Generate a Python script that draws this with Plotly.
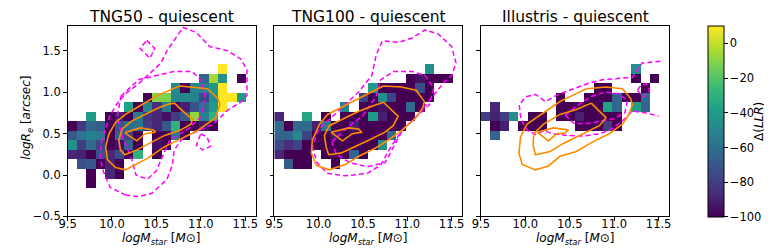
import plotly.graph_objects as go

# ---------------- data ----------------
PANEL_TITLES = ["TNG50 - quiescent", "TNG100 - quiescent", "Illustris - quiescent"]
X_TITLE = "<i>logM</i><sub><i>star</i></sub> [<i>M</i>⊙]"
Y_TITLE = "<i>logR</i><sub><i>e</i></sub> [<i>arcsec</i>]"
CB_TITLE = "Δ(<i>LLR</i>)"

X_EDGES = [9.5, 9.606, 9.712, 9.818, 9.924, 10.03, 10.136, 10.242, 10.348, 10.454, 10.56,
           10.666, 10.772, 10.878, 10.984, 11.09, 11.196, 11.302, 11.408, 11.514, 11.62]
Y_EDGES = [-0.5, -0.385, -0.27, -0.155, -0.04, 0.075, 0.19, 0.305, 0.42, 0.535, 0.65,
           0.765, 0.88, 0.995, 1.11, 1.225, 1.34, 1.455, 1.57, 1.685, 1.8]

X_TICKS = [9.5, 10.0, 10.5, 11.0, 11.5]
Y_TICKS = [-0.5, 0.0, 0.5, 1.0, 1.5]
CB_TICKS = [-100, -80, -60, -40, -20, 0]

# Delta(LLR) per cell: {row index: {column index: value}}
TNG50_CELLS = {
    3: {2: -100},
    4: {2: -100, 4: -88, 5: -100},
    5: {1: -72, 2: -70, 3: -100, 4: -90, 5: -100},
    6: {0: -88, 1: -90, 2: -100, 3: -72, 4: -88, 5: -75, 6: -100, 7: -30, 9: -100},
    7: {0: -45, 1: -80, 2: -62, 3: -78, 4: -100, 5: -95, 6: -65, 7: -100, 9: -95, 10: -100},
    8: {0: -70, 1: -58, 2: -52, 3: -55, 4: -100, 5: -65, 6: -78, 7: -100, 9: -100, 10: -100,
        11: -55, 12: -100},
    9: {0: -100, 1: -82, 2: -65, 3: -68, 4: -100, 5: -72, 6: -60, 7: -58, 8: -80, 9: -88,
        10: -70, 11: -30, 12: -100, 13: -100, 14: -92, 15: -100},
    10: {2: -40, 4: -100, 5: -92, 6: -100, 7: -55, 8: -82, 9: -88, 10: -95, 11: -80, 12: -70,
         13: -8, 14: -52, 15: -30},
    11: {6: -38, 7: -100, 8: -50, 9: -85, 10: -55, 11: -100, 12: -90, 13: -72, 14: -60,
         15: -40, 16: 10},
    12: {8: -100, 9: -10, 10: -12, 11: -50, 12: -48, 13: -52, 14: -75, 15: -45, 16: 10,
         17: 10, 18: -40},
    13: {11: -48, 12: -100, 13: -50, 14: -52, 15: -42, 16: 10},
    14: {14: -65, 15: -5, 16: -45, 18: -100},
    15: {16: 10},
}
TNG100_CELLS = {
    5: {1: -68, 2: -100, 3: -100, 6: -100},
    6: {0: -88, 1: -100, 2: -100, 3: -100, 5: -100, 6: -100, 7: -100, 8: -65, 9: -100},
    7: {0: -75, 1: -85, 2: -78, 3: -100, 4: -100, 5: -100, 6: -100, 7: -100, 8: -100,
        9: -100, 10: -100, 11: -45},
    8: {0: -65, 1: -65, 2: -48, 3: -78, 4: -100, 5: -100, 6: -92, 7: -100, 8: -100, 9: -100,
        10: -100, 11: -100, 12: -62},
    9: {0: -62, 1: -100, 2: -62, 3: -62, 4: -90, 5: -55, 6: -100, 7: -100, 8: -90, 9: -100,
        10: -100, 11: -100, 12: -100, 13: -100},
    10: {0: -88, 3: -35, 5: -100, 7: -100, 8: -100, 9: -100, 10: -40, 11: -90, 12: -100,
         13: -100, 14: -100},
    11: {7: -50, 9: -100, 10: -100, 11: -95, 12: -100, 13: -100, 14: -62, 15: -100},
    12: {9: -78, 10: -100, 11: -45, 12: -78, 13: -100, 14: -100, 15: -100, 16: -100},
    13: {10: -40, 11: -100, 12: -100, 13: -100, 14: -100, 15: -75, 16: -100},
    14: {14: -100, 15: -95, 16: -100, 17: -100, 18: -100},
    15: {16: -45},
}
ILLUSTRIS_CELLS = {
    8: {1: -65},
    9: {1: -100, 2: -90, 4: -100, 5: -100, 6: -100, 10: -100, 11: -100, 12: -100, 13: -80,
        14: -100},
    10: {0: -80, 1: -90, 2: -80, 3: -45, 5: -100, 6: -100, 8: -100, 9: -100, 10: -90,
         11: -100, 12: -100, 13: -100, 14: -100},
    11: {1: -88, 8: -100, 9: -100, 10: -100, 11: -100, 12: -100, 13: -38, 14: -65, 16: -38,
         17: -65},
    12: {8: -100, 11: -100, 12: -100, 13: -100, 14: -65, 15: -100, 16: -100, 17: -62},
    13: {12: -100, 13: -100, 17: -100},
    14: {16: -100, 18: -100},
    15: {16: -45},
}

# contour lines (logM, logRe)
TNG50_ORANGE = [
    ([10.761, 11.075, 11.193, 11.215, 11.167, 10.964, 10.779, 10.594, 10.409, 10.299, 10.151,
      10.040, 9.948, 9.929, 9.966, 10.040, 10.151, 10.336, 10.520, 10.761],
     [1.073, 1.041, 0.925, 0.855, 0.692, 0.536, 0.439, 0.342, 0.206, 0.148, 0.062,
      0.090, 0.187, 0.342, 0.498, 0.634, 0.731, 0.847, 0.964, 1.073]),
    ([10.631, 10.705, 10.797, 10.908, 10.890, 10.760, 10.594, 10.446, 10.280, 10.143, 10.095,
      10.077, 10.114, 10.225, 10.373, 10.520, 10.631],
     [0.855, 0.867, 0.770, 0.672, 0.614, 0.536, 0.478, 0.400, 0.303, 0.245, 0.303,
      0.420, 0.556, 0.653, 0.731, 0.808, 0.855]),
    ([10.143, 10.317, 10.465, 10.491, 10.373, 10.280, 10.143],
     [0.509, 0.568, 0.544, 0.517, 0.498, 0.412, 0.509]),
]
TNG50_MAGENTA = [
    ([10.15, 10.30, 10.45, 10.62, 10.68, 10.70, 10.80, 11.00, 11.15, 11.30, 11.45, 11.52,
      11.52, 11.45, 11.30, 11.10, 10.95, 10.80, 10.70, 10.62, 10.55, 10.45, 10.30, 10.15,
      10.05, 9.97, 9.88, 9.87, 9.90, 9.98, 10.15],
     [-0.24, -0.26, -0.22, -0.05, 0.12, 0.30, 0.45, 0.55, 0.62, 0.78, 0.88, 0.96,
      1.27, 1.40, 1.50, 1.55, 1.72, 1.78, 1.62, 1.50, 1.35, 1.25, 1.10, 0.98,
      0.85, 0.70, 0.40, 0.20, 0.05, -0.15, -0.24]),
    ([10.10, 10.30, 10.50, 10.70, 10.90, 11.00, 11.05, 11.00, 10.85, 10.65, 10.58, 10.50,
      10.40, 10.27, 10.22, 10.12, 10.06, 10.10],
     [0.95, 1.15, 1.20, 1.25, 1.25, 1.15, 0.95, 0.70, 0.55, 0.42, 0.25, 0.05,
      -0.05, 0.00, 0.20, 0.45, 0.70, 0.95]),
    ([10.391, 10.483, 10.428, 10.317, 10.391], [1.624, 1.527, 1.410, 1.527, 1.624]),
    ([11.00, 11.07, 11.11, 11.02, 10.95, 11.00], [0.497, 0.460, 0.345, 0.303, 0.360, 0.497]),
]

TNG100_ORANGE = [
    ([10.731, 10.934, 11.100, 11.193, 11.174, 11.082, 10.934, 10.786, 10.638, 10.453, 10.306,
      10.121, 9.973, 9.918, 9.929, 10.010, 10.102, 10.306, 10.490, 10.731],
     [1.073, 1.061, 1.022, 0.886, 0.808, 0.672, 0.536, 0.420, 0.323, 0.226, 0.129,
      0.062, 0.117, 0.264, 0.420, 0.614, 0.731, 0.847, 0.944, 1.073]),
    ([10.731, 10.897, 10.841, 10.749, 10.564, 10.380, 10.250, 10.113, 10.084, 10.065, 10.121,
      10.269, 10.453, 10.601, 10.731],
     [0.878, 0.711, 0.595, 0.517, 0.420, 0.323, 0.264, 0.245, 0.342, 0.478, 0.595,
      0.672, 0.770, 0.828, 0.878]),
    ([10.139, 10.342, 10.453, 10.483, 10.380, 10.269, 10.139],
     [0.517, 0.568, 0.556, 0.517, 0.498, 0.412, 0.517]),
]
TNG100_MAGENTA = [
    ([9.93, 9.98, 10.10, 10.30, 10.55, 10.70, 10.82, 10.95, 11.10, 11.25, 11.40, 11.50,
      11.55, 11.50, 11.35, 11.20, 11.05, 10.90, 10.72, 10.65, 10.60, 10.45, 10.30, 10.15,
      10.00, 9.93],
     [0.35, 0.15, 0.02, -0.01, 0.02, 0.12, 0.35, 0.55, 0.70, 0.90, 1.10, 1.20,
      1.35, 1.55, 1.70, 1.75, 1.65, 1.60, 1.62, 1.45, 1.20, 1.00, 0.85, 0.70,
      0.55, 0.35]),
    ([10.15, 10.30, 10.50, 10.65, 10.70, 10.85, 11.05, 11.20, 11.30, 11.25, 11.10, 10.95,
      10.85, 10.75, 10.55, 10.35, 10.20, 10.15],
     [0.40, 0.55, 0.72, 0.95, 1.15, 1.25, 1.25, 1.20, 1.05, 0.85, 0.70, 0.55,
      0.35, 0.15, 0.10, 0.15, 0.25, 0.40]),
]

ILLUSTRIS_ORANGE = [
    ([10.686, 10.908, 11.093, 11.185, 11.204, 11.167, 11.093, 10.945, 10.760, 10.575, 10.391,
      10.261, 10.113, 9.966, 9.929, 9.947, 10.021, 10.206, 10.391, 10.538, 10.686],
     [1.041, 1.061, 1.041, 0.925, 0.847, 0.731, 0.614, 0.498, 0.400, 0.284, 0.226,
      0.109, 0.062, 0.128, 0.264, 0.459, 0.614, 0.750, 0.886, 0.964, 1.041]),
    ([10.742, 10.908, 10.834, 10.723, 10.575, 10.428, 10.280, 10.113, 10.088, 10.095, 10.206,
      10.391, 10.575, 10.742],
     [0.867, 0.692, 0.595, 0.536, 0.459, 0.381, 0.284, 0.245, 0.362, 0.498, 0.614,
      0.731, 0.789, 0.867]),
    ([10.132, 10.317, 10.483, 10.446, 10.354, 10.261, 10.132],
     [0.517, 0.568, 0.544, 0.505, 0.498, 0.412, 0.517]),
]
ILLUSTRIS_MAGENTA = [
    ([11.52, 11.41, 11.314, 11.204, 11.056, 10.871, 10.723, 10.538, 10.354, 10.228, 10.117,
      10.006, 9.932, 9.951, 10.025, 10.117, 10.210, 10.30, 10.45, 10.65, 10.85, 10.98,
      11.10, 11.204, 11.351, 11.499],
     [1.372, 1.360, 1.352, 1.177, 1.166, 1.150, 1.111, 1.041, 0.964, 0.886, 0.972,
      0.944, 0.847, 0.673, 0.537, 0.490, 0.537, 0.50, 0.48, 0.47, 0.50, 0.56,
      0.66, 0.770, 0.750, 0.711]),
    ([10.45, 10.60, 10.75, 10.90, 11.05, 11.15, 11.12, 11.00, 10.85, 10.70, 10.55, 10.45],
     [0.72, 0.85, 0.95, 1.00, 0.98, 0.90, 0.75, 0.68, 0.65, 0.62, 0.62, 0.72]),
    ([11.26, 11.33, 11.40, 11.36, 11.30, 11.26], [1.02, 0.94, 1.02, 1.10, 1.08, 1.02]),
]

PANELS = [
    (TNG50_CELLS, TNG50_ORANGE, TNG50_MAGENTA),
    (TNG100_CELLS, TNG100_ORANGE, TNG100_MAGENTA),
    (ILLUSTRIS_CELLS, ILLUSTRIS_ORANGE, ILLUSTRIS_MAGENTA),
]

# ---------------- figure ----------------
W, H = 772, 249
FONT = "DejaVu Sans"
PX = [(51.3, 242.3), (261.0, 451.7), (470.5, 661.7)]
TOP, BOT = 18.3, 214.5

fig = go.Figure()
nrows = len(Y_EDGES) - 1
ncols = len(X_EDGES) - 1
for k, (cells, orange, magenta) in enumerate(PANELS):
    z = [[None] * ncols for _ in range(nrows)]
    for r, row in cells.items():
        for c, v in row.items():
            z[r][c] = v
    ax = "" if k == 0 else str(k + 1)
    fig.add_trace(go.Heatmap(
        x=X_EDGES, y=Y_EDGES, z=z, colorscale="Viridis", zmin=-100, zmax=10,
        showscale=(k == 0), xaxis="x" + ax, yaxis="y" + ax, hoverongaps=False,
        colorbar=dict(
            x=700.7 / W, xanchor="left", y=1 - 215.0 / H, yanchor="bottom",
            len=(215.0 - TOP) / H, lenmode="fraction", thickness=16, thicknessmode="pixels",
            xpad=0, ypad=0, outlinewidth=1, outlinecolor="black",
            ticks="outside", ticklen=3.5, tickwidth=1, tickcolor="black",
            tickvals=CB_TICKS, tickfont=dict(family=FONT, size=11.5, color="black"),
        ),
    ))
    for xs, ys in magenta:
        fig.add_trace(go.Scatter(x=xs, y=ys, mode="lines", xaxis="x" + ax, yaxis="y" + ax,
                                 line=dict(color="#ff00ff", width=1.5, dash="5px,3px"),
                                 showlegend=False, hoverinfo="skip"))
    for xs, ys in orange:
        fig.add_trace(go.Scatter(x=xs, y=ys, mode="lines", xaxis="x" + ax, yaxis="y" + ax,
                                 line=dict(color="#ff8c00", width=1.6),
                                 showlegend=False, hoverinfo="skip"))

layout = dict(
    width=W, height=H, margin=dict(l=0, r=0, t=0, b=0),
    paper_bgcolor="white", plot_bgcolor="white", showlegend=False,
    font=dict(family=FONT, color="black"),
)
axis_common = dict(showgrid=False, zeroline=False, showline=True, linecolor="black",
                   linewidth=1, mirror=True, ticks="outside", ticklen=3.5, tickwidth=1,
                   tickcolor="black", tickfont=dict(family=FONT, size=11.5, color="black"))
for k in range(3):
    ax = "" if k == 0 else str(k + 1)
    x0, x1 = PX[k]
    layout["xaxis" + ax] = dict(
        axis_common, domain=[x0 / W, x1 / W], range=[X_EDGES[0], X_EDGES[-1]],
        tickvals=X_TICKS, tickformat=".1f", anchor="y" + ax, ticklabelstandoff=-7,
    )
    layout["yaxis" + ax] = dict(
        axis_common, domain=[1 - BOT / H, 1 - TOP / H], range=[Y_EDGES[0], Y_EDGES[-1]],
        tickvals=Y_TICKS, tickformat=".1f", anchor="x" + ax,
        showticklabels=(k == 0),
    )

fig.update_layout(**layout)
for k, t in enumerate(PANEL_TITLES):
    x0, x1 = PX[k]
    cx = (x0 + x1) / 2 / W
    fig.add_annotation(text=t, x=cx, y=1 - 9.5 / H, xref="paper", yref="paper",
                       showarrow=False, xanchor="center", yanchor="middle",
                       font=dict(family=FONT, size=15.5, color="black"))
    fig.add_annotation(text=X_TITLE, x=cx, y=1 - 237.5 / H, xref="paper", yref="paper",
                       showarrow=False, xanchor="center", yanchor="middle",
                       font=dict(family=FONT, size=12, color="black"))
fig.add_annotation(text=Y_TITLE, x=10.0 / W, y=1 - 113.0 / H, xref="paper", yref="paper",
                   showarrow=False, xanchor="center", yanchor="middle", textangle=-90,
                   font=dict(family=FONT, size=12, color="black"))
fig.add_annotation(text=CB_TITLE, x=752.0 / W, y=1 - 117.0 / H, xref="paper", yref="paper",
                   showarrow=False, xanchor="center", yanchor="middle", textangle=-90,
                   font=dict(family=FONT, size=12, color="black"))

fig.write_html("out.html")
